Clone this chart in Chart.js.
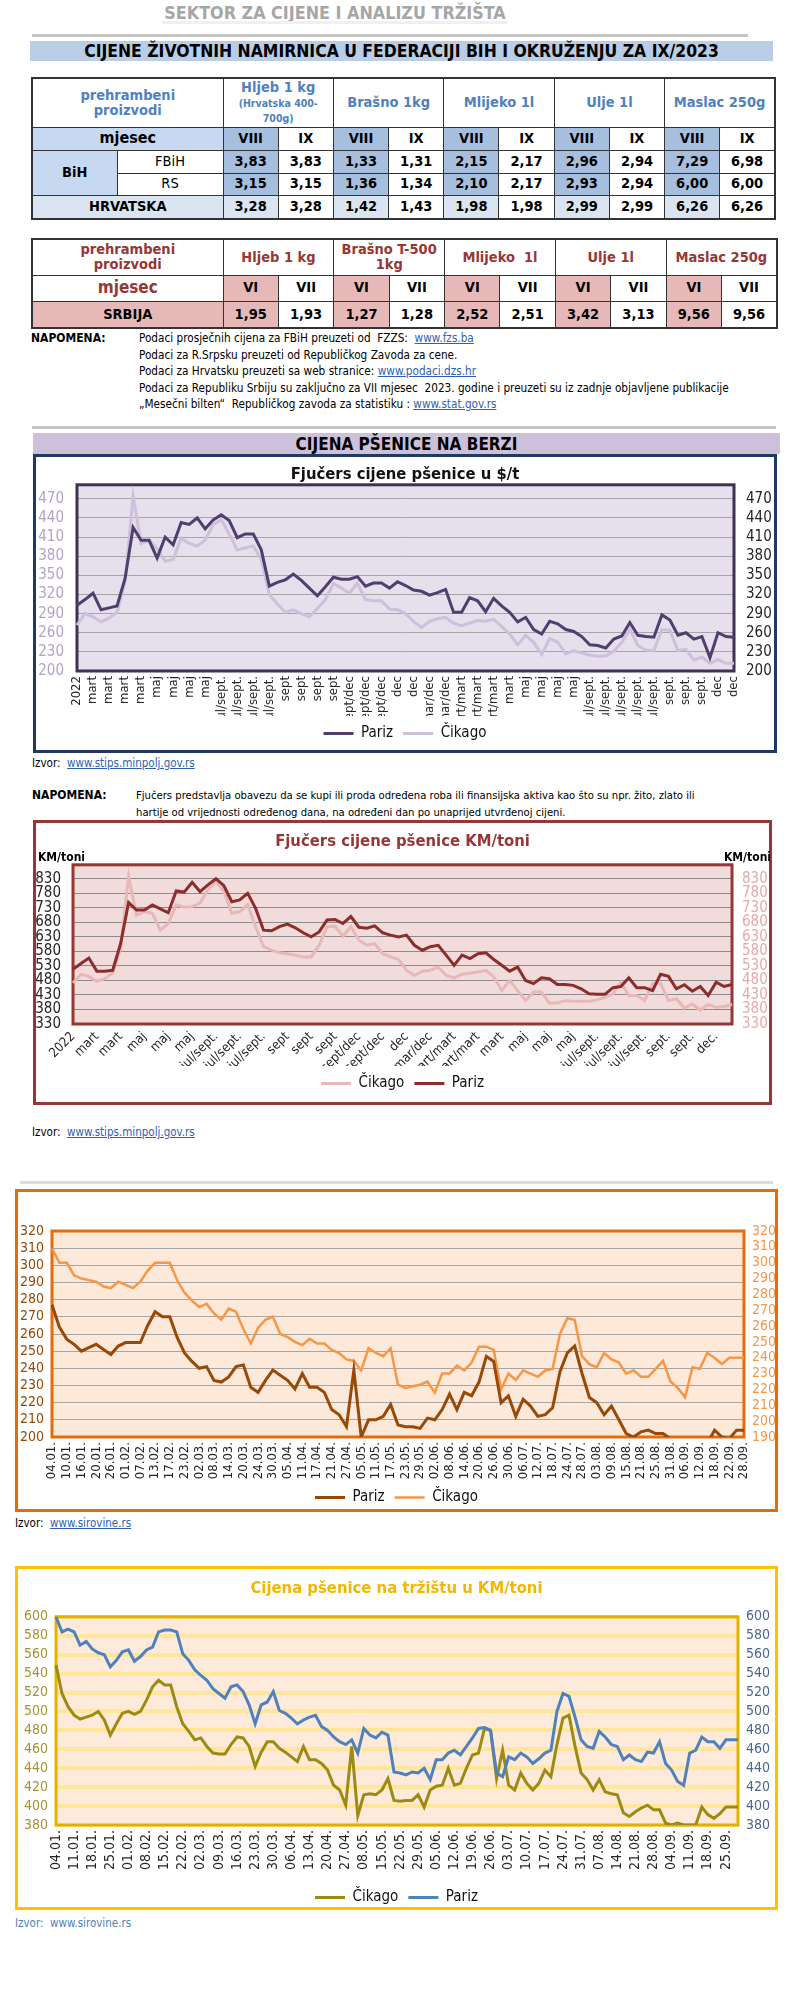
<!DOCTYPE html>
<html lang="hr">
<head>
<meta charset="UTF-8" />
<title>Cijene pšenice</title>
<script src="https://cdn.jsdelivr.net/npm/chart.js"></script>
<style>
  body { margin: 0; background: #fff; font-family: 'Liberation Sans Narrow', 'Arial Narrow', 'DejaVu Sans Condensed', sans-serif; color: #000; }
  .page { position: relative; width: 800px; height: 2000px; overflow: hidden; }
  .abs { position: absolute; }
  .hdr { left: 0; width: 670px; top: 2px; text-align: center; font-size: 17.8px; font-weight: bold; color: #a6a6a6; }
  .rule { height: 3px; background: #c4c4c4; }
  .band { text-align: center; font-weight: bold; }
  table.t { position: absolute; border-collapse: collapse; table-layout: fixed; border: 2px solid #333; font-weight: bold; font-size: 14.5px; text-align: center; }
  table.t td { border: 1px solid #333; padding: 0; line-height: 1.05; overflow: hidden; }
  .blue { color: #4f81bd; }
  .red { color: #953735; }
  .lb { background: #c6d9f1; }
  .mb { background: #a7bfde; }
  .xb { background: #dbe5f1; }
  .pk { background: #e6b9b8; }
  .sm { font-size: 10.5px; }
  .nw { font-weight: normal; }
  .note { font-size: 11.7px; line-height: 16.5px; }
  .nh { font-size: 12px; font-weight: bold; }
  a { color: #2f5fb3; text-decoration: underline; }
  .izv { font-size: 11.5px; }
  .box { box-sizing: border-box; z-index: 2; pointer-events: none; }
  .cw { z-index: 1; }
</style>
</head>
<body>
<div class="page">
  <div class="abs hdr">SEKTOR ZA CIJENE I ANALIZU TRŽIŠTA</div>
  <div class="abs" style="left:162px;top:21px;width:346px;height:3px;background:#f0f0f0"></div>
  <div class="abs rule" style="left:32px;top:34px;width:716px"></div>
  <div class="abs band" style="left:30px;top:41px;width:743px;height:20px;line-height:21px;font-size:17.4px;background:#b9cde5">CIJENE ŽIVOTNIH NAMIRNICA U FEDERACIJI BIH I OKRUŽENJU ZA IX/2023</div>

  <table class="t" style="left:31px;top:77px;width:743px">
    <colgroup><col style="width:85px"><col style="width:106px"><col span="10" style="width:55.2px"></colgroup>
    <tr style="height:49px" class="blue"><td colspan="2">prehrambeni<br>proizvodi</td><td colspan="2">Hljeb 1 kg<br><span class="sm">(Hrvatska 400-<br>700g)</span></td><td colspan="2">Brašno 1kg</td><td colspan="2">Mlijeko 1l</td><td colspan="2">Ulje 1l</td><td colspan="2">Maslac 250g</td></tr>
    <tr style="height:23px"><td colspan="2" class="lb" style="font-size:16px">mjesec</td><td class="mb">VIII</td><td>IX</td><td class="mb">VIII</td><td>IX</td><td class="mb">VIII</td><td>IX</td><td class="mb">VIII</td><td>IX</td><td class="mb">VIII</td><td>IX</td></tr>
    <tr style="height:23px"><td rowspan="2" class="lb">BiH</td><td class="nw">FBiH</td><td class="mb">3,83</td><td>3,83</td><td class="mb">1,33</td><td>1,31</td><td class="mb">2,15</td><td>2,17</td><td class="mb">2,96</td><td>2,94</td><td class="mb">7,29</td><td>6,98</td></tr>
    <tr style="height:22px"><td class="nw">RS</td><td class="mb">3,15</td><td>3,15</td><td class="mb">1,36</td><td>1,34</td><td class="mb">2,10</td><td>2,17</td><td class="mb">2,93</td><td>2,94</td><td class="mb">6,00</td><td>6,00</td></tr>
    <tr style="height:24px"><td colspan="2" class="xb">HRVATSKA</td><td class="xb">3,28</td><td>3,28</td><td class="xb">1,42</td><td>1,43</td><td class="xb">1,98</td><td>1,98</td><td class="xb">2,99</td><td>2,99</td><td class="xb">6,26</td><td>6,26</td></tr>
  </table>

  <table class="t" style="left:31px;top:238px;width:745px">
    <colgroup><col style="width:85px"><col style="width:106px"><col span="10" style="width:55.4px"></colgroup>
    <tr style="height:36px" class="red"><td colspan="2">prehrambeni<br>proizvodi</td><td colspan="2">Hljeb 1 kg</td><td colspan="2">Brašno T-500<br>1kg</td><td colspan="2">Mlijeko&nbsp; 1l</td><td colspan="2">Ulje 1l</td><td colspan="2">Maslac 250g</td></tr>
    <tr style="height:26px"><td colspan="2" class="red" style="font-size:17px">mjesec</td><td class="pk">VI</td><td>VII</td><td class="pk">VI</td><td>VII</td><td class="pk">VI</td><td>VII</td><td class="pk">VI</td><td>VII</td><td class="pk">VI</td><td>VII</td></tr>
    <tr style="height:27px"><td colspan="2" class="pk">SRBIJA</td><td class="pk">1,95</td><td>1,93</td><td class="pk">1,27</td><td>1,28</td><td class="pk">2,52</td><td>2,51</td><td class="pk">3,42</td><td>3,13</td><td class="pk">9,56</td><td>9,56</td></tr>
  </table>

  <div class="abs nh" style="left:31px;top:331px">NAPOMENA:</div>
  <div class="abs note" style="left:139px;top:330px">
    Podaci prosječnih cijena za FBiH preuzeti od&nbsp; FZZS:&nbsp; <a>www.fzs.ba</a><br>
    Podaci za R.Srpsku preuzeti od Republičkog Zavoda za cene.<br>
    Podaci za Hrvatsku preuzeti sa web stranice: <a>www.podaci.dzs.hr</a><br>
    Podaci za Republiku Srbiju su zaključno za VII mjesec&nbsp; 2023. godine i preuzeti su iz zadnje objavljene publikacije<br>
    „Mesečni bilten“&nbsp; Republičkog zavoda za statistiku : <a>www.stat.gov.rs</a>
  </div>
  <div class="abs rule" style="left:32px;top:426px;width:744px"></div>

  <!-- chart 1 -->
  <div class="abs band" style="left:33px;top:433px;width:747px;height:21px;line-height:22px;font-size:17px;background:#ccc0da">CIJENA PŠENICE NA BERZI</div>
  <div class="abs box" style="left:33px;top:454px;width:744px;height:299px;border:3px solid #1f3864"></div>
  <div class="abs cw" style="left:36px;top:457px;width:738px;height:294px"><canvas id="c1"></canvas></div>
  <div class="abs izv" style="left:32px;top:756px">Izvor:&nbsp; <a>www.stips.minpolj.gov.rs</a></div>

  <!-- chart 2 -->
  <div class="abs nh" style="left:32px;top:788px">NAPOMENA:</div>
  <div class="abs note" style="left:136px;top:787px;font-size:11.2px;line-height:17px">Fjučers predstavlja obavezu da se kupi ili proda određena roba ili finansijska aktiva kao što su npr. žito, zlato ili<br>hartije od vrijednosti određenog dana, na određeni dan po unaprijed utvrđenoj cijeni.</div>
  <div class="abs box" style="left:33px;top:820px;width:739px;height:285px;border:3px solid #953735"></div>
  <div class="abs cw" style="left:36px;top:823px;width:733px;height:279px"><canvas id="c2"></canvas></div>
  <div class="abs nh" style="left:38px;top:850px;z-index:3">KM/toni</div>
  <div class="abs nh" style="left:724px;top:850px;z-index:3">KM/toni</div>
  <div class="abs izv" style="left:32px;top:1125px">Izvor:&nbsp; <a>www.stips.minpolj.gov.rs</a></div>

  <div class="abs" style="left:20px;top:1181px;width:753px;height:3px;background:#dcdcdc"></div>

  <!-- chart 3 -->
  <div class="abs box" style="left:15px;top:1189px;width:763px;height:323px;border:3px solid #e46c0a"></div>
  <div class="abs cw" style="left:18px;top:1192px;width:757px;height:323px"><canvas id="c3"></canvas></div>
  <div class="abs izv" style="left:15px;top:1516px">Izvor:&nbsp; <a>www.sirovine.rs</a></div>

  <!-- chart 4 -->
  <div class="abs box" style="left:15px;top:1566px;width:763px;height:344px;border:3px solid #ffc000"></div>
  <div class="abs cw" style="left:18px;top:1569px;width:757px;height:346px"><canvas id="c4"></canvas></div>
  <div class="abs izv" style="left:15px;top:1916px;color:#4f81bd">Izvor:&nbsp; www.sirovine.rs</div>
</div>

<script>
  // ---------- chart 1: futures $/t ----------
  const ticks1 = ['2022','mart','mart','mart','mart','maj','maj','maj','maj','jul/sept.','jul/sept.','jul/sept.','jul/sept.',
    'sept','sept','sept','sept','sept/dec','sept/dec','sept/dec','dec','dec','mar/dec','mar/dec','mart/mart','mart/mart','mart/mart',
    'mart','maj','maj','maj','maj','jul/sept.','jul/sept.','jul/sept.','jul/sept.','jul/sept.','sept.','sept.','sept.','dec','dec']
  const paris1 = [303,312,322,296,299,302,345,425,405,405, 377,410,398,433,430,440,423,437,445,436,
    409,415,415,390,333,339,343,352,342,330, 318,332,347,344,344,348,333,338,338,330,
    340,334,327,325,319,323,328,292,292,315, 310,293,314,302,292,277,284,265,258,278,
    274,265,262,254,241,240,236,250,255,276, 256,254,253,288,280,256,260,250,254,221, 260,254,253]
  const chicago1 = [272,290,285,277,283,292,340,474,400,405, 392,372,375,408,400,396,405,430,437,415,
    390,393,396,375,320,305,292,296,290,285, 298,312,337,330,322,338,312,310,310,297,
    296,290,278,268,278,282,284,275,271,275, 279,278,281,270,258,241,256,245,226,251,
    245,227,232,228,225,223,224,231,245,265, 240,233,232,265,264,232,234,217,222,212, 218,212,212]
  const yTicks1 = [200,230,260,290,320,350,380,410,440,470]

  // ---------- chart 2: futures KM/toni ----------
  const ticks2 = ['2022','mart','mart','maj','maj','maj','jul/sept.','jul/sept.','jul/sept.','sept','sept','sept','sept/dec','sept/dec',
    'dec','mar/dec','mart/mart','mart/mart','mart','maj','maj','maj','jul/sept.','jul/sept.','jul/sept.','sept.','sept.','dec.']
  const paris2 = [518,538,557,512,512,515,607,748,722,722, 740,726,713,788,784,818,786,809,830,806,
    751,757,780,728,653,651,665,674,661,644, 630,647,688,690,676,700,663,660,668,644,
    636,630,636,601,584,596,601,567,532,567, 555,572,575,552,532,512,526,480,469,489,
    486,466,466,463,451,434,432,432,455,459, 489,455,455,445,501,494,451,465,443,459, 428,474,459,466]
  const chicago2 = [471,501,494,477,486,505,590,838,705,717, 711,653,676,740,732,734,746,792,820,786,
    711,717,740,665,596,584,575,572,567,561, 561,601,665,667,632,665,619,601,607,572,
    561,552,515,497,512,515,526,497,489,501, 505,509,515,492,445,480,445,411,440,440,
    402,402,411,408,408,408,413,422,434,474, 428,428,411,469,469,411,417,385,399,378, 397,388,390,397]
  const yTicks2 = [330,380,430,480,530,580,630,680,730,780,830]

  // ---------- chart 3: daily prices ----------
  const ticks3 = ['04.01.','10.01.','16.01.','20.01.','26.01.','01.02.','07.02.','13.02.','17.02.','23.02.','02.03.','08.03.',
    '14.03.','20.03.','24.03.','30.03.','05.04.','11.04.','17.04.','21.04.','27.04.','05.05.','11.05.','17.05.','23.05.','29.05.',
    '02.06.','08.06.','14.06.','20.06.','26.06.','30.06.','06.07.','12.07.','18.07.','24.07.','28.07.','03.08.','09.08.','15.08.',
    '21.08.','25.08.','31.08.','06.09.','12.09.','18.09.','22.09.','28.09.']
  const paris3 = [277,264,257,254,250,252,254,251,248,253, 255,255,255,265,273,270,270,258,249,244,
    240,241,233,232,235,241,242,229,226,233, 239,236,233,228,237,229,229,226,216,213,
    206,239,200,210,210,212,219,207,206,206, 205,211,210,216,225,216,226,224,232,247,
    244,220,224,212,222,218,212,213,217,238, 249,253,237,223,220,213,218,210,202,200,
    203,204,202,202,199,195,195,195,195,196, 204,200,199,204,204]
  const chicago3 = [309,300,300,292,290,289,288,285,284,288, 286,284,288,295,300,300,300,289,281,276,
    272,274,268,264,271,269,258,249,259,264, 266,255,253,250,248,252,249,249,245,243,
    239,238,232,246,243,241,246,223,221,222, 223,225,218,230,230,235,232,237,247,247,
    245,220,230,226,232,230,228,232,233,255, 265,264,241,236,234,243,239,237,230,232,
    228,228,233,238,225,221,215,234,233,243, 240,236,240,240,240]
  const yTicks3L = [200,210,220,230,240,250,260,270,280,290,300,310,320]
  const yTicks3R = [190,200,210,220,230,240,250,260,270,280,290,300,310,320]

  // ---------- chart 4: market price KM/toni ----------
  const ticks4 = ['04.01.','11.01.','18.01.','25.01.','01.02.','08.02.','15.02.','22.02.','02.03.','09.03.','16.03.','23.03.',
    '30.03.','06.04.','13.04.','20.04.','27.04.','08.05.','15.05.','22.05.','29.05.','05.06.','12.06.','19.06.','26.06.','03.07.',
    '10.07.','17.07.','24.07.','31.07.','07.08.','14.08.','21.08.','28.08.','04.09.','11.09.','18.09.','25.09.']
  const chicago4 = [549,519,505,496,492,494,496,500,491,475, 487,498,500,497,500,512,526,533,528,528,
    505,487,479,470,472,463,456,455,455,465, 473,472,463,442,457,468,468,461,457,452,
    447,463,449,449,445,438,422,417,401,463, 390,412,413,412,417,429,406,405,406,406,
    412,399,417,421,422,440,422,424,440,454, 456,482,480,429,459,422,417,435,424,417,
    424,438,431,465,493,496,463,435,428,417, 428,415,413,412,393,389,394,398,401,396,
    396,382,380,382,380,380,380,399,391,387, 392,399,399,399]
  const paris4 = [600,584,587,584,570,574,566,562,560,547, 554,563,565,553,558,565,568,584,586,586,
    584,561,554,544,538,533,524,519,514,526, 528,521,507,487,507,510,521,501,498,493,
    487,491,494,496,484,480,473,468,465,470, 456,482,475,472,478,475,436,435,433,436,
    435,440,428,449,449,456,459,454,463,472, 482,483,480,435,431,452,449,456,452,445,
    450,456,459,500,519,516,494,470,463,461, 479,473,465,463,449,454,449,447,457,456,
    468,445,438,426,422,456,459,473,468,468, 461,470,470,470]
  const yTicks4 = [380,400,420,440,460,480,500,520,540,560,580,600]

  const narrow = "'Liberation Sans Narrow', 'Arial Narrow', 'DejaVu Sans Condensed', sans-serif"
  Chart.defaults.font.family = narrow
  Chart.defaults.color = '#262626'

  // plot background + frame like the spreadsheet charts
  const plotFrame = {
    id: 'plotFrame',
    beforeDraw(chart, args, o) {
      const { ctx, chartArea: a } = chart
      ctx.save()
      ctx.fillStyle = o.fill
      ctx.fillRect(a.left, a.top, a.width, a.height)
      ctx.restore()
    },
    beforeDatasetsDraw(chart, args, o) {
      const { ctx, chartArea: a } = chart
      ctx.save()
      ctx.strokeStyle = o.stroke
      ctx.lineWidth = o.width
      ctx.strokeRect(a.left, a.top, a.width, a.height)
      ctx.restore()
    }
  }
  Chart.register(plotFrame)

  function spread(ticks, n, every) {
    return Array.from({ length: n }, (_, i) => i % every === 0 ? (ticks[i / every] || '') : '')
  }

  function axisY(o) {
    return {
      position: o.pos, min: o.min, max: o.max,
      border: { display: false },
      grid: o.grid ? { color: o.grid, lineWidth: o.gridWidth || 1, drawTicks: false } : { display: false, drawTicks: false },
      ticks: { autoSkip: false, color: o.color, padding: o.pad, font: { size: o.size || 14 } },
      afterBuildTicks: s => { s.ticks = o.ticks.map(v => ({ value: v })) },
      afterFit: s => { s.width = o.width }
    }
  }

  function axisX(height, rot, size) {
    return {
      offset: false,
      border: { display: false },
      grid: { display: false, drawTicks: false },
      ticks: { autoSkip: false, minRotation: rot, maxRotation: rot, padding: 5, color: '#262626', font: { size } },
      afterFit: s => { s.height = height }
    }
  }

  function series(label, data, color, width, axis, order) {
    return { label, data, yAxisID: axis, borderColor: color, backgroundColor: color, borderWidth: width,
      pointRadius: 0, pointBorderWidth: width, tension: 0, order }
  }

  function legendOpts() {
    return {
      position: 'bottom',
      labels: { usePointStyle: true, pointStyle: 'line', pointStyleWidth: 30, color: '#111', font: { size: 15 }, padding: 10,
        sort: (a, b) => a.datasetIndex - b.datasetIndex }
    }
  }

  function makeChart(id, cfg) {
    return new Chart(document.getElementById(id), {
      type: 'line',
      data: { labels: cfg.labels, datasets: cfg.datasets },
      options: {
        responsive: true, maintainAspectRatio: false, animation: false,
        layout: { padding: cfg.padding },
        plugins: {
          title: cfg.title || { display: false },
          legend: legendOpts(),
          tooltip: { enabled: false },
          plotFrame: cfg.frame
        },
        scales: cfg.scales
      }
    })
  }

  makeChart('c1', {
    labels: spread(ticks1, paris1.length, 2),
    datasets: [series('Pariz', paris1, '#4f3f6f', 3, 'y', 0), series('Čikago', chicago1, '#ccc0da', 3, 'y2', 1)],
    padding: { top: 0, bottom: 0, left: 0, right: 0 },
    title: { display: true, text: 'Fjučers cijene pšenice u $/t', color: '#111', font: { size: 16.5, weight: 'bold' }, padding: { top: 8, bottom: 0 } },
    frame: { fill: '#e5e0ec', stroke: '#403152', width: 3 },
    scales: {
      x: axisX(45, 90, 13),
      y: axisY({ pos: 'left', min: 200, max: 492, ticks: yTicks1, width: 41, color: '#b3a2c7', pad: 13, grid: '#a6a6a6', size: 15 }),
      y2: axisY({ pos: 'right', min: 200, max: 492, ticks: yTicks1, width: 40, color: '#262626', pad: 12, size: 15 })
    }
  })

  makeChart('c2', {
    labels: spread(ticks2, paris2.length, 3),
    datasets: [series('Čikago', chicago2, '#e6b9b8', 3, 'y2', 1), series('Pariz', paris2, '#8c2d2d', 3, 'y', 0)],
    padding: { top: 0, bottom: 1, left: 0, right: 0 },
    title: { display: true, text: 'Fjučers cijene pšenice KM/toni', color: '#953735', font: { size: 16.5, weight: 'bold' }, padding: { top: 9, bottom: 13 } },
    frame: { fill: '#f2dcdb', stroke: '#953735', width: 3 },
    scales: {
      x: axisX(42, 45, 13),
      y: axisY({ pos: 'left', min: 330, max: 878, ticks: yTicks2, width: 37, color: '#262626', pad: 12, grid: '#8c8c8c', size: 15 }),
      y2: axisY({ pos: 'right', min: 330, max: 878, ticks: yTicks2, width: 37, color: '#e6a9a8', pad: 10, size: 15 })
    }
  })

  makeChart('c3', {
    labels: spread(ticks3, paris3.length, 2),
    datasets: [series('Pariz', paris3, '#984807', 3, 'y', 0), series('Čikago', chicago3, '#f79646', 2.5, 'y2', 1)],
    padding: { top: 39, bottom: 0, left: 0, right: 0 },
    frame: { fill: '#fde9d9', stroke: '#e46c0a', width: 3 },
    scales: {
      x: axisX(43, 90, 13),
      y: axisY({ pos: 'left', min: 200, max: 320, ticks: yTicks3L, width: 34, color: '#984807', pad: 8, grid: '#a6a6a6', size: 14 }),
      y2: axisY({ pos: 'right', min: 190, max: 320, ticks: yTicks3R, width: 31, color: '#f79646', pad: 8, size: 14 })
    }
  })

  makeChart('c4', {
    labels: spread(ticks4, paris4.length, 3),
    datasets: [series('Čikago', chicago4, '#9e8a12', 3, 'y', 1), series('Pariz', paris4, '#4f81bd', 3, 'y2', 0)],
    padding: { top: 0, bottom: 0, left: 0, right: 0 },
    title: { display: true, text: 'Cijena pšenice na tržištu u KM/toni', color: '#f2b800', font: { size: 16.5, weight: 'bold' }, padding: { top: 10, bottom: 18 } },
    frame: { fill: '#fdeada', stroke: '#e2b200', width: 3 },
    scales: {
      x: axisX(55, 90, 14),
      y: axisY({ pos: 'left', min: 380, max: 600, ticks: yTicks4, width: 38, color: '#a8922e', pad: 8, grid: '#ffe699', gridWidth: 4, size: 14 }),
      y2: axisY({ pos: 'right', min: 380, max: 600, ticks: yTicks4, width: 37, color: '#4a6790', pad: 8, size: 14 })
    }
  })
</script>
</body>
</html>
